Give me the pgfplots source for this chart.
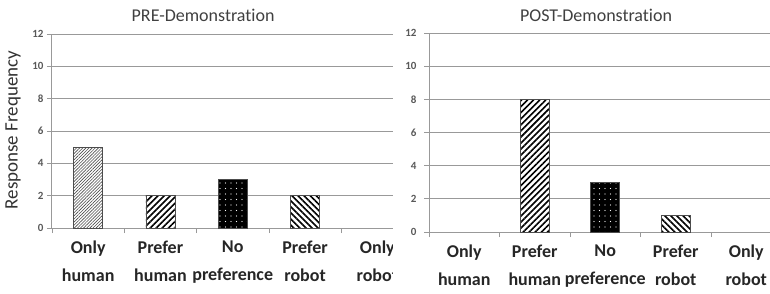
\documentclass[border=0pt]{standalone}
\usepackage{fontspec}
\setmainfont{Carlito}[Ligatures=NoCommon]
\usepackage{pgfplots}
\pgfplotsset{compat=1.18}
\usetikzlibrary{patterns.meta}
\tikzset{
 pA/.style={draw=black!70, line width=0.8pt, fill=white, postaction={pattern={Lines[angle=45,distance=2.2pt,line width=0.6pt]}, pattern color=black!70}},
 pB/.style={draw=black!70, line width=0.8pt, fill=white, postaction={pattern={Lines[angle=45,distance=4.3pt,line width=1.6pt]}, pattern color=black}},
 pC/.style={draw=black!70, line width=0.8pt, fill=black, postaction={pattern={Dots[distance=5.5pt,radius=0.6pt]}, pattern color=white}},
 pD/.style={draw=black!70, line width=0.8pt, fill=white, postaction={pattern={Lines[angle=-45,distance=4.3pt,line width=1.6pt]}, pattern color=black}},
}
\pgfplotsset{exc/.style={
 scale only axis, ybar, bar width=29pt,
 ymin=0, ymax=12, ytick={0,2,...,12},
 xmin=-0.5, xmax=4.5,
 xtick={0,1,2,3,4},
 xticklabels={{Only\\human},{Prefer\\human},{No\\preference},{Prefer\\robot},{Only\\robot}},
 minor xtick={-0.5,0.5,1.5,2.5,3.5,4.5},
 axis x line*=bottom, axis y line*=left,
 axis line style={draw=black!40, line width=1pt},
 ymajorgrids, grid style={black!40, line width=1pt},
 major x tick style={draw=none},
 minor x tick style={draw=black!40, line width=0.8pt},
 major y tick style={draw=black!40, line width=0.8pt},
 tick align=outside, major tick length=5pt, minor tick length=5pt,
 xticklabel style={font=\bfseries\fontsize{18}{28}\selectfont, align=center, text=black!85, yshift=-4pt},
 yticklabel style={font=\bfseries\fontsize{11}{13}\selectfont, text=black!65},
 /pgf/number format/assume math mode=true,
 title style={font=\fontsize{18}{20}\selectfont, text=black!75, anchor=base},
}}
\begin{document}
\begin{tikzpicture}
\begin{axis}[exc, at={(52pt,65pt)}, anchor=south west, width=361.5pt, height=194pt,
  title={PRE-Demonstration}, title style={at={(axis description cs:0.418,1.036)}},
  ylabel={Response Frequency},
  ylabel style={at={(axis description cs:-0.108,0.505)}, anchor=center, font=\fontsize{19}{21}\selectfont, text=black!80}]
\addplot[bar shift=0pt, pA] coordinates {(0,5)};
\addplot[bar shift=0pt, pB] coordinates {(1,2)};
\addplot[bar shift=0pt, pC] coordinates {(2,3)};
\addplot[bar shift=0pt, pD] coordinates {(3,2)};
\end{axis}
\fill[white] (393pt,-20pt) rectangle (800pt,320pt);
\begin{axis}[exc, at={(429pt,61pt)}, anchor=south west, width=352.5pt, height=199pt,
  title={POST-Demonstration}, title style={at={(axis description cs:0.474,1.03)}},
  yticklabel style={xshift=-4pt}]
\addplot[bar shift=0pt, pB] coordinates {(1,8)};
\addplot[bar shift=0pt, pC] coordinates {(2,3)};
\addplot[bar shift=0pt, pD] coordinates {(3,1)};
\end{axis}
\pgfresetboundingbox
\path (0pt,0pt) rectangle (770pt,293pt);
\end{tikzpicture}
\end{document}
